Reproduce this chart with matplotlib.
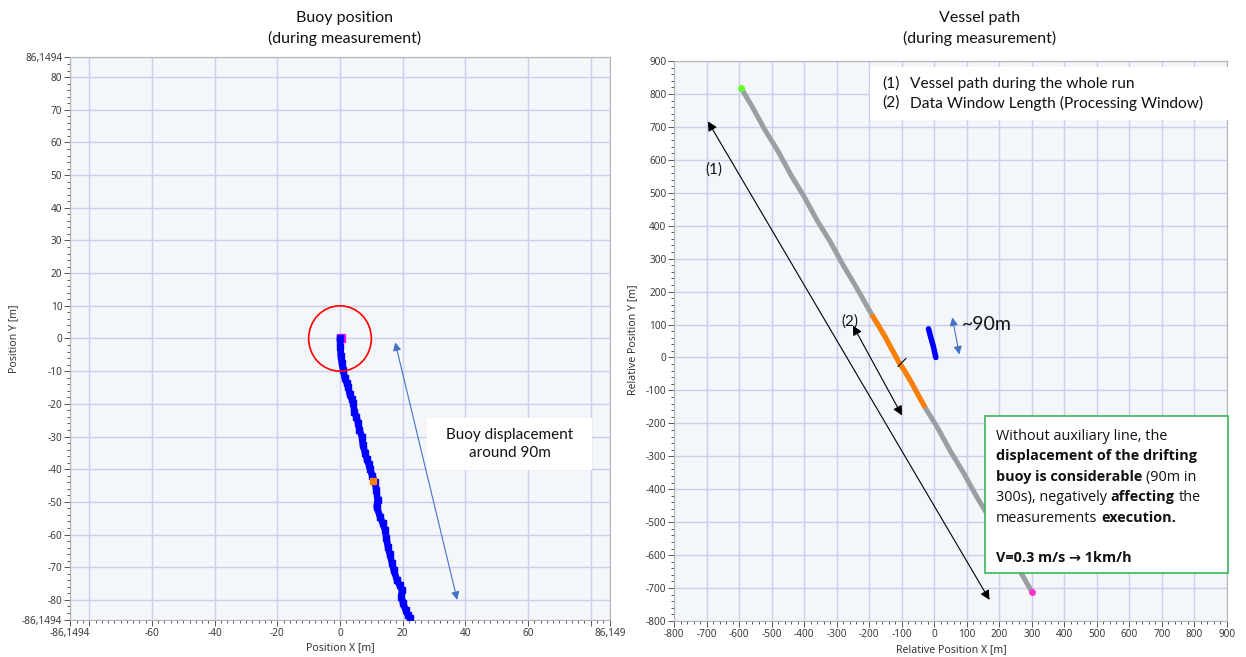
import matplotlib
matplotlib.use("Agg")
import matplotlib.pyplot as plt
from matplotlib.patches import Rectangle, Circle
from matplotlib.ticker import MultipleLocator

plt.rcParams['font.family'] = ['Lato', 'DejaVu Sans']

# ---------------- data ----------------
# buoy track (left panel), metres relative to deployment point
buoy_x = [0.0, 0.1, 0.3, 0.6, 1.0, 1.5, 2.1, 2.6, 3.1, 3.7, 4.2, 4.6, 5.2, 5.8,
          6.2, 7.0, 7.3, 8.0, 8.6, 9.2, 9.6, 10.3, 11.2, 11.6, 12.0, 11.7, 12.8,
          13.6, 14.4, 14.8, 15.3, 15.9, 16.6, 17.2, 18.2, 19.0, 19.8, 19.6, 20.1,
          20.9, 21.7, 22.4]
buoy_y = [0.0, -2.5, -5.5, -7.5, -9.5, -12.0, -13.5, -14.7, -17.0, -18.5, -19.6,
          -22.5, -24.0, -25.8, -28.0, -30.0, -32.5, -35.0, -37.0, -38.5, -40.0,
          -42.0, -44.0, -46.5, -49.4, -51.5, -54.6, -56.5, -58.6, -61.0, -63.8,
          -66.0, -68.7, -71.0, -74.0, -75.5, -77.0, -79.0, -81.0, -83.0, -84.7,
          -85.5]
buoy_start = (0.2, 0.3)
buoy_mid = (10.5, -43.6)
watch_radius = 10.0

left_xticks = [-86.1494, -80, -60, -40, -20, 0, 20, 40, 60, 80, 86.149]
left_xticklabels = ['-86,1494', '', '-60', '-40', '-20', '0', '20', '40', '60', '', '86,149']
left_yticks = [-86.1494, -80, -70, -60, -50, -40, -30, -20, -10, 0,
               10, 20, 30, 40, 50, 60, 70, 80, 86.1494]
left_yticklabels = ['-86,1494', '-80', '-70', '-60', '-50', '-40', '-30', '-20', '-10', '0',
                    '10', '20', '30', '40', '50', '60', '70', '80', '86,1494']

# vessel path (right panel), relative position in metres
vessel_x = [-593, -560, -520, -480, -440, -400, -360, -320, -280, -240, -192, -150,
            -110, -70, -28, 10, 50, 90, 130, 170, 210, 250, 280, 300]
vessel_y = [817, 762, 690, 626, 553, 488, 416, 352, 280, 214, 130, 61,
            -12, -76, -152, -213, -285, -350, -422, -487, -559, -624, -677, -711]
window_x = [-192, -170, -150, -130, -110, -90, -70, -50, -28]
window_y = [130, 95, 61, 24, -12, -42, -76, -113, -152]
buoy_rel_x = [-17.6, -13, -8, -3, 1, 5]
buoy_rel_y = [87, 70, 52, 35, 17, 0]

right_ticks = list(range(-800, 901, 100))

# ---------------- figure ----------------
W, H = 1246, 657
fig = plt.figure(figsize=(W / 100, H / 100), dpi=100)


def fx(px):
    return px / W


def fy(py):
    return 1 - py / H


axL = fig.add_axes([fx(70), fy(620), fx(610) - fx(70), fy(57) - fy(620)])
axR = fig.add_axes([fx(674), fy(621), fx(1227) - fx(674), fy(61) - fy(621)])

TICK_FONT = ['Noto Sans', 'DejaVu Sans']
NOTE_FONT = ['Open Sans', 'DejaVu Sans']


def style(ax):
    ax.set_facecolor('#f4f7f9')
    for s in ax.spines.values():
        s.set_color('#b4b4b4')
        s.set_linewidth(0.8)
    ax.tick_params(which='both', direction='out', color='#555555',
                   labelcolor='#3a3a3a', labelsize=7.2, width=0.7)
    ax.tick_params(which='major', length=4, pad=1.5)
    ax.tick_params(which='minor', length=2)
    ax.grid(which='major', color='#cdcdf0', lw=1.0)
    ax.set_axisbelow(True)


# ---- left panel: buoy position ----
style(axL)
axL.set_xlim(-86.1494, 86.149)
axL.set_ylim(-86.1494, 86.1494)
axL.set_xticks(left_xticks)
axL.set_xticklabels(left_xticklabels, family=TICK_FONT)
axL.set_yticks(left_yticks)
axL.set_yticklabels(left_yticklabels, family=TICK_FONT)
axL.xaxis.set_minor_locator(MultipleLocator(2))
axL.yaxis.set_minor_locator(MultipleLocator(2))

axL.plot(*buoy_start, 's', color='#ff00ff', ms=6, zorder=2)
axL.plot(buoy_x, buoy_y, color='#0000ff', lw=4.8, solid_capstyle='round',
         solid_joinstyle='round', zorder=3)
axL.plot(buoy_x, buoy_y, 's', color='#0000ff', ms=4.2, zorder=3)
axL.plot(*buoy_mid, 's', color='#ff8000', ms=5, zorder=4)
axL.add_patch(Circle((0, 0), watch_radius, fill=False, ec='#ff0000', lw=1.2, zorder=4))

axL.annotate('', xy=(17.6, -1.2), xytext=(37.4, -80),
             arrowprops=dict(arrowstyle='<|-|>', color='#4472c4', lw=0.8,
                             mutation_scale=12, shrinkA=0, shrinkB=0))

axL.add_patch(Rectangle((fx(427), fy(470)), (592 - 427) / W, 52 / H,
                        transform=fig.transFigure, fc='white', ec='none',
                        clip_on=False, zorder=10))
axL.annotate('Buoy displacement\naround 90m', xy=(fx(510), fy(444)),
             xycoords='figure fraction', ha='center', va='center',
             fontsize=11, linespacing=1.3, color='#111111', zorder=11)

# ---- right panel: vessel path ----
style(axR)
axR.set_xlim(-800, 900)
axR.set_ylim(-800, 900)
axR.set_xticks(right_ticks)
axR.set_xticklabels([str(v) for v in right_ticks], family=TICK_FONT)
axR.set_yticks(right_ticks)
axR.set_yticklabels([str(v) for v in right_ticks], family=TICK_FONT)
axR.xaxis.set_minor_locator(MultipleLocator(20))
axR.yaxis.set_minor_locator(MultipleLocator(20))

axR.plot(vessel_x, vessel_y, color='#9a9fa3', lw=3.6, solid_capstyle='round', zorder=2)
axR.plot(window_x, window_y, color='#ff8000', lw=3.6, solid_capstyle='butt', zorder=3)
axR.plot(vessel_x[0], vessel_y[0], 'o', color='#66ff33', ms=4, zorder=4)
axR.plot(vessel_x[-1], vessel_y[-1], 'o', color='#ff33cc', ms=4, zorder=4)
axR.plot(buoy_rel_x, buoy_rel_y, color='#0000ff', lw=4, solid_capstyle='round', zorder=4)
axR.plot([-111, -87], [-27, -3], color='black', lw=0.8, zorder=5)

black_arrow = dict(arrowstyle='<|-|>', color='black', lw=0.8,
                   mutation_scale=14, shrinkA=0, shrinkB=0)
axR.annotate('', xy=(-696, 717), xytext=(170, -736), arrowprops=black_arrow)
axR.annotate('', xy=(-250, 97), xytext=(-99, -176), arrowprops=black_arrow)
axR.annotate('', xy=(55.6, 121.6), xytext=(77, 9),
             arrowprops=dict(arrowstyle='<|-|>', color='#4472c4', lw=0.8,
                             mutation_scale=12, shrinkA=0, shrinkB=0))
axR.text(-677, 571, '(1)', ha='center', va='center', fontsize=11, color='#111111')
axR.text(-260, 109, '(2)', ha='center', va='center', fontsize=11, color='#111111')
axR.text(86, 100, '~90m', ha='left', va='center', fontsize=14, color='#111111')

# legend-like note at the top
axR.add_patch(Rectangle((fx(870), fy(120)), 360 / W, 53 / H,
                        transform=fig.transFigure, fc='white', ec='none',
                        clip_on=False, zorder=10))
for py, tag, desc in [(84, '(1)', 'Vessel path during the whole run'),
                      (103, '(2)', 'Data Window Length (Processing Window)')]:
    axR.annotate(tag, xy=(fx(882), fy(py)), xycoords='figure fraction',
                 ha='left', va='center', fontsize=11.2, color='#111111', zorder=11)
    axR.annotate(desc, xy=(fx(910), fy(py)), xycoords='figure fraction',
                 ha='left', va='center', fontsize=11.2, color='#111111', zorder=11)

# comment box with mixed-weight text
axR.add_patch(Rectangle((fx(985), fy(573)), (1228 - 985) / W, (573 - 416) / H,
                        transform=fig.transFigure, fc='white', ec='#3cb55a', lw=1.2,
                        clip_on=False, zorder=10))

NOTE_SIZE = 10.4
SPACE_PX = 0.26 * NOTE_SIZE * 100 / 72
note_lines = [
    (439.5, [('Without auxiliary line, the', False)]),
    (460.0, [('displacement of the drifting', True)]),
    (480.5, [('buoy is considerable', True), ('(90m in', False)]),
    (501.0, [('300s), negatively', False), ('affecting', True), ('the', False)]),
    (522.0, [('measurements', False), ('execution.', True)]),
    (561.5, [('V=0.3 m/s \u2192 1km/h', True)]),
]
renderer = fig.canvas.get_renderer()
for py, parts in note_lines:
    x = fx(996)
    for txt, bold in parts:
        t = fig.text(x, fy(py), txt, ha='left', va='baseline', fontsize=NOTE_SIZE,
                     family=NOTE_FONT, fontweight='bold' if bold else 'normal',
                     color='#111111', zorder=11)
        x += (t.get_window_extent(renderer).width + SPACE_PX) / W

# ---- titles and axis labels ----
fig.text(fx(345), fy(28.5), 'Buoy position\n(during measurement)', ha='center',
         va='center', fontsize=11.5, linespacing=1.45, color='#111111')
fig.text(fx(980), fy(28.5), 'Vessel path\n(during measurement)', ha='center',
         va='center', fontsize=11.5, linespacing=1.45, color='#111111')

fig.text(fx(340), fy(648), 'Position X [m]', ha='center', va='center',
         fontsize=7.6, family=TICK_FONT, color='#333333')
fig.text(fx(14), fy(339), 'Position Y [m]', ha='center', va='center', rotation=90,
         fontsize=7.6, family=TICK_FONT, color='#333333')
fig.text(fx(951), fy(650), 'Relative Position X [m]', ha='center', va='center',
         fontsize=7.6, family=TICK_FONT, color='#333333')
fig.text(fx(633), fy(340), 'Relative Position Y [m]', ha='center', va='center',
         rotation=90, fontsize=7.6, family=TICK_FONT, color='#333333')

fig.savefig('out.png', dpi=100, facecolor='white')
